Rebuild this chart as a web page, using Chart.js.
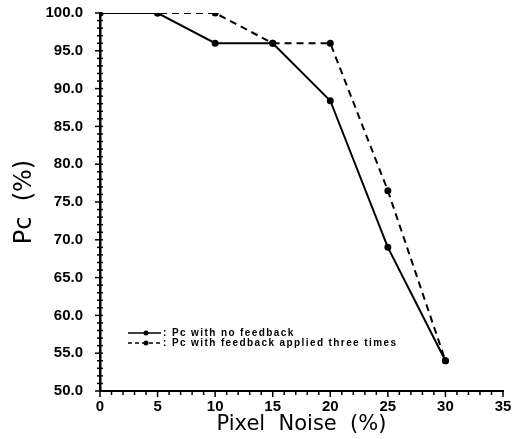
<!DOCTYPE html>
<html>
<head>
<meta charset="utf-8">
<script src="https://cdn.jsdelivr.net/npm/chart.js@4"></script>
<style>
  html, body { margin: 0; padding: 0; background: #fff; }
  #wrap { width: 520px; height: 439px; }
</style>
</head>
<body>
<div id="wrap"><canvas id="PCCHART"></canvas></div>
<script>
// pixel noise levels (%)
const noise = [0, 5, 10, 15, 20, 25, 30];
// Pc (%)
const pcNoFeedback = [100, 100, 96.0, 96.0, 88.4, 69.0, 54.0];
const pcFeedback3x = [100, 100, 100, 96.0, 96.0, 76.5, 54.0];
const seriesNames = ['Pc with no feedback', 'Pc with feedback applied three times'];

const ctx = document.getElementById('PCCHART');

// little tick marks + inset legend, like the old plotter output
const plotDecor = {
  id: 'plotDecor',
  afterDraw(chart) {
    const c = chart.ctx;
    const xs = chart.scales.x, ys = chart.scales.y;
    const ax = xs.getPixelForValue(0), ay = ys.getPixelForValue(50);
    c.save();
    c.strokeStyle = '#000';
    c.lineWidth = 1.5;
    for (let v = 50; v <= 100; v++) {
      const y = ys.getPixelForValue(v);
      const len = v % 5 === 0 ? 5 : 3;
      c.beginPath(); c.moveTo(ax - len, y); c.lineTo(ax + 3, y); c.stroke();
    }
    for (let v = 0; v <= 35; v++) {
      const x = xs.getPixelForValue(v);
      const len = v % 5 === 0 ? 6 : 4;
      c.beginPath(); c.moveTo(x, ay - 1); c.lineTo(x, ay + len); c.stroke();
    }

    // legend
    const lx = chart.chartArea.left + 28, ly = chart.chartArea.top + 320;
    c.font = 'bold 10px "Liberation Sans", Arial, sans-serif';
    c.letterSpacing = '1.4px';
    c.textBaseline = 'middle';
    c.fillStyle = '#000';
    seriesNames.forEach((name, i) => {
      const y = ly + i * 10;
      c.lineWidth = 1.5;
      c.setLineDash(i === 0 ? [] : [4, 3]);
      c.beginPath(); c.moveTo(lx, y); c.lineTo(lx + 33, y); c.stroke();
      c.setLineDash([]);
      c.beginPath(); c.arc(lx + 18, y, 2.5, 0, Math.PI * 2); c.fill();
      c.fillText(': ' + name, lx + 35, y);
    });
    c.restore();
  }
};

const pc_chart = new Chart(ctx, {
  type: 'line',
  data: {
    labels: noise,
    datasets: [{
      label: seriesNames[0],
      data: noise.map((x, i) => ({ x: x, y: pcNoFeedback[i] })),
      borderColor: '#000',
      backgroundColor: '#000',
      borderWidth: 2,
      pointRadius: 2.5,
      tension: 0
    }, {
      label: seriesNames[1],
      data: noise.map((x, i) => ({ x: x, y: pcFeedback3x[i] })),
      borderColor: '#000',
      backgroundColor: '#000',
      borderWidth: 2,
      borderDash: [7, 5],
      pointRadius: 2.5,
      tension: 0
    }]
  },
  options: {
    responsive: true,
    maintainAspectRatio: false,
    animation: false,
    layout: { padding: { top: 13, right: 17, left: 0, bottom: 0 } },
    plugins: {
      legend: { display: false },
      tooltip: { enabled: false }
    },
    scales: {
      x: {
        type: 'linear',
        min: 0,
        max: 35,
        grid: { display: false, drawTicks: false },
        border: { display: true, color: '#000', width: 2 },
        ticks: {
          stepSize: 5,
          padding: 8,
          color: '#000',
          font: { family: '"Liberation Sans", Arial, sans-serif', size: 15, weight: 'bold', lineHeight: 1 }
        },
        title: {
          display: true,
          text: 'Pixel  Noise  (%)',
          color: '#000',
          padding: { top: 0, bottom: 2 },
          font: { family: '"DejaVu Sans", sans-serif', size: 21 }
        },
        afterFit: s => { s.height = 48; s.paddingLeft = 0; s.paddingRight = 0; }
      },
      y: {
        min: 50,
        max: 100,
        grid: { display: false, drawTicks: false },
        border: { display: true, color: '#000', width: 2.5 },
        ticks: {
          stepSize: 5,
          padding: 17,
          color: '#000',
          callback: v => v.toFixed(1),
          font: { family: '"Liberation Sans", Arial, sans-serif', size: 15, weight: 'bold' }
        },
        title: {
          display: true,
          text: 'Pc  (%)',
          color: '#000',
          padding: { top: 10, bottom: 0 },
          font: { family: '"DejaVu Sans", sans-serif', size: 24 }
        },
        afterFit: s => { s.width = 100; s.paddingTop = 0; s.paddingBottom = 0; }
      }
    }
  },
  plugins: [plotDecor]
});
</script>
</body>
</html>
